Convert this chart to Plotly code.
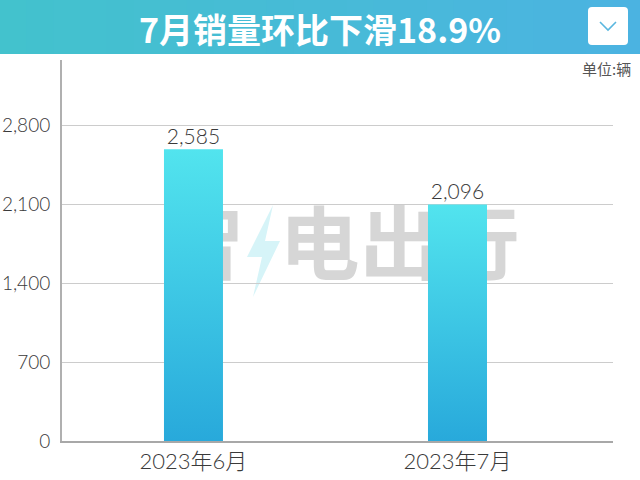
import plotly.graph_objects as go

categories = ["2023年6月", "2023年7月"]
sales = [2585, 2096]
label_text = ["2,585", "2,096"]
y_ticks = [0, 700, 1400, 2100, 2800]
y_tick_text = ["0", "700", "1,400", "2,100", "2,800"]
title_text = "7月销量环比下滑18.9%"
unit_text = "单位:辆"
watermark_parts = ["智", "电出行"]

# layout geometry (pixels)
W, H = 640, 480
ML, MR, MT, MB = 62, 27, 60, 39
PW, PH = W - ML - MR, H - MT - MB
BAR_W = 0.2235
X_RANGE = [-0.498, 1.589]
Y_RANGE = [0, 3376]


def px(x):
    return (x - ML) / PW


def py(y):
    return (H - MB - y) / PH


fig = go.Figure()

# watermark behind bars
fig.add_trace(go.Scatter(
    x=[0.04, 0.78], y=[1670, 1670], mode="text", text=watermark_parts,
    textfont=dict(size=80, color="#d6d6d6", family="Noto Sans CJK SC", weight=700),
    hoverinfo="skip", showlegend=False,
))

# gradient bars
for i, v in enumerate(sales):
    x0, x1 = i - BAR_W / 2, i + BAR_W / 2
    fig.add_trace(go.Scatter(
        x=[x0, x0, x1, x1, x0], y=[0, v, v, 0, 0],
        mode="lines", line=dict(width=0), fill="toself",
        fillgradient=dict(type="vertical",
                          colorscale=[[0, "#28a9db"], [1, "#52e4ee"]]),
        hoverinfo="skip", showlegend=False,
    ))

# value labels
fig.add_trace(go.Scatter(
    x=list(range(len(sales))), y=sales, mode="text", text=label_text,
    textposition="top center",
    textfont=dict(size=21, color="#3a3a3a", family="Lato, Noto Sans CJK SC", weight=300),
    hovertemplate="%{y}<extra></extra>", showlegend=False,
))

shapes = []
# header band with horizontal gradient
c0 = (0x43, 0xc2, 0xcd)
c1 = (0x4b, 0xb3, 0xe1)
N = 24
for k in range(N):
    t = k / (N - 1)
    col = "rgb(%d,%d,%d)" % tuple(round(a + (b - a) * t) for a, b in zip(c0, c1))
    shapes.append(dict(type="rect", xref="paper", yref="paper",
                       x0=px(W * k / N), x1=px(W * (k + 1) / N + 1),
                       y0=py(54), y1=py(0), fillcolor=col, line=dict(width=0),
                       layer="below"))
# watermark lightning bolt (decoration, behind traces)
bolt = [(273, 205), (247, 257), (262, 257), (253, 297), (280, 241), (265, 241)]
bolt_path = "M " + " L ".join(f"{px(a)} {py(b)}" for a, b in bolt) + " Z"
shapes.append(dict(type="path", xref="paper", yref="paper", path=bolt_path,
                   fillcolor="#d6f4f8", line=dict(width=0), layer="below"))
# button
bx0, bx1, by0, by1, r = 588, 628, 7, 45, 4
path = (f"M {px(bx0 + r)} {py(by0)} L {px(bx1 - r)} {py(by0)} "
        f"Q {px(bx1)} {py(by0)} {px(bx1)} {py(by0 + r)} L {px(bx1)} {py(by1 - r)} "
        f"Q {px(bx1)} {py(by1)} {px(bx1 - r)} {py(by1)} L {px(bx0 + r)} {py(by1)} "
        f"Q {px(bx0)} {py(by1)} {px(bx0)} {py(by1 - r)} L {px(bx0)} {py(by0 + r)} "
        f"Q {px(bx0)} {py(by0)} {px(bx0 + r)} {py(by0)} Z")
shapes.append(dict(type="path", xref="paper", yref="paper", path=path,
                   fillcolor="white", line=dict(width=0)))
shapes.append(dict(type="path", xref="paper", yref="paper",
                   path=f"M {px(600)} {py(22)} L {px(608)} {py(30)} L {px(616)} {py(22)}",
                   line=dict(color="#5ab7df", width=1.6)))

annotations = [
    dict(text=title_text, xref="paper", yref="paper", x=px(320), y=py(28),
         xanchor="center", yanchor="middle", showarrow=False,
         font=dict(size=34, color="white", family="Noto Sans CJK SC", weight=700)),
    dict(text=unit_text, xref="paper", yref="paper", x=px(633), y=py(69),
         xanchor="right", yanchor="middle", showarrow=False,
         font=dict(size=15, color="#555555", family="Noto Sans CJK SC")),
]

fig.update_layout(
    width=W, height=H,
    margin=dict(l=ML, r=MR, t=MT, b=MB, autoexpand=False),
    paper_bgcolor="white", plot_bgcolor="white",
    shapes=shapes, annotations=annotations,
    xaxis=dict(range=X_RANGE, tickvals=list(range(len(categories))), ticktext=categories,
               showgrid=False, zeroline=False, showline=True, linecolor="#a8a8a8",
               linewidth=2, ticks="", fixedrange=True, automargin=False,
               tickfont=dict(size=22, color="#3a3a3a", family="Lato, Noto Sans CJK SC", weight=300)),
    yaxis=dict(range=Y_RANGE, tickvals=y_ticks, ticktext=y_tick_text,
               showgrid=True, gridcolor="#cccccc", gridwidth=1, zeroline=False,
               showline=True, linecolor="#b0b0b0", linewidth=2, ticks="",
               ticklabelstandoff=6, fixedrange=True, automargin=False,
               tickfont=dict(size=19, color="#3a3a3a", family="Lato, Noto Sans CJK SC", weight=300)),
)

fig.write_html(
    "out.html",
    config={"displayModeBar": False},
    post_script="document.body.style.margin='0';document.body.style.overflow='hidden';",
)
